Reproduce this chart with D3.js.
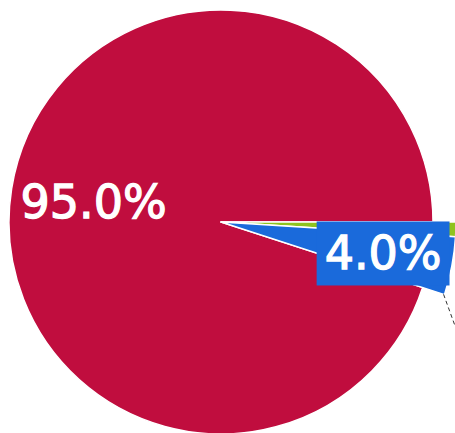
<!DOCTYPE html>
<html><head><meta charset="utf-8">
<script src="https://cdn.jsdelivr.net/npm/d3@7"></script>
<style>html,body{margin:0;padding:0;background:#fff;overflow:hidden}</style>
</head><body>
<svg id="chart" width="455" height="433"></svg>
<script>
const categories = ["A", "B", "C"];
const values = [95.0, 1.0, 4.0];
const colors = ["#c00d3e", "#8fc31f", "#1a6adb"];
const labels = ["95.0%", "", "4.0%"];

const svg = d3.select("#chart");
const cx = 221, cy = 222, rBig = 212, rSmall = 235;
const g = svg.append("g").attr("transform", `translate(${cx},${cy})`);

const total = d3.sum(values);
const startDeg = 90 + (values[1] + values[2]) / total * 360;
const pie = d3.pie().sort(null).value(d => d)
  .startAngle(startDeg * Math.PI / 180)
  .endAngle((startDeg + 360) * Math.PI / 180);
const arcs = pie(values);

const arcFor = i => d3.arc().innerRadius(0).outerRadius(i === 0 ? rBig : rSmall);

g.selectAll("path.slice").data(arcs).join("path")
  .attr("class", "slice")
  .attr("d", (d, i) => arcFor(i)(d))
  .attr("fill", (d, i) => colors[i])
  .attr("stroke", "#fff")
  .attr("stroke-width", 1.5)
  .attr("stroke-linejoin", "round");

// connector (dashed)
const b = arcs[2];
const a0 = b.endAngle;
const p0 = [Math.sin(a0) * (rSmall - 1), -Math.cos(a0) * (rSmall - 1)];
g.append("line")
  .attr("x1", p0[0]).attr("y1", p0[1])
  .attr("x2", p0[0] + 16).attr("y2", p0[1] + 44)
  .attr("stroke", "#333").attr("stroke-width", 1).attr("stroke-dasharray", "4,3");

// big label
const labArcBig = d3.arc().innerRadius(129).outerRadius(129);
const cBig = labArcBig.centroid(arcs[0]);
g.append("text")
  .attr("x", cBig[0]).attr("y", cBig[1])
  .attr("text-anchor", "middle").attr("dy", "0.36em")
  .attr("font-family", "DejaVu Sans").attr("font-size", 46)
  .attr("fill", "#fff").attr("stroke", "#fff").attr("stroke-width", 1.3)
  .text(labels[0]);

// small label with box
const labArcSmall = d3.arc().innerRadius(165).outerRadius(165);
const cSm = labArcSmall.centroid(arcs[2]);
const lg = g.append("g");
const rect = lg.append("rect").attr("fill", colors[2]);
const t = lg.append("text")
  .attr("x", cSm[0]).attr("y", cSm[1])
  .attr("text-anchor", "middle").attr("dy", "0.36em")
  .attr("font-family", "DejaVu Sans").attr("font-size", 46)
  .attr("fill", "#fff").attr("stroke", "#fff").attr("stroke-width", 1.3)
  .text(labels[2]);
const bb = t.node().getBBox();
rect.attr("x", bb.x - 8).attr("y", bb.y - 5)
  .attr("width", bb.width + 16).attr("height", bb.height + 10);
</script>
</body></html>
